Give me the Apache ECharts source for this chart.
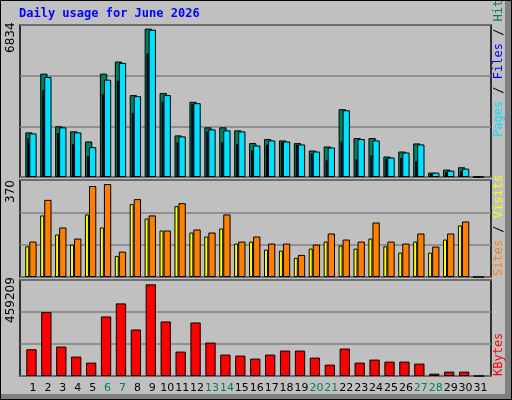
<!DOCTYPE html>
<html><head><meta charset="utf-8">
<script src="https://cdn.jsdelivr.net/npm/echarts@6/dist/echarts.min.js"></script>
<style>html,body{margin:0;padding:0;background:#c0c0c0}#c{width:512px;height:400px}</style>
</head><body><div id="c"></div>
<script>
const days = ['1','2','3','4','5','6','7','8','9','10','11','12','13','14','15','16','17','18','19','20','21','22','23','24','25','26','27','28','29','30','31'];
const weekendDays = ['6','7','13','14','20','21','27','28'];
const hits  = [2055,4760,2333,2102,1638,4760,5316,3771,6834,3864,1916,3462,2287,2287,2148,1561,1746,1684,1561,1221,1406,3122,1793,1793,943,1174,1545,201,340,448,0];
const files = [2009,4605,2287,2055,1375,4481,5254,3724,6784,3771,1870,3400,2194,2148,2102,1453,1684,1638,1499,1174,1360,3075,1746,1684,896,1128,1499,201,294,386,0];
const pages = [1793,4018,2025,1514,958,3833,4435,2951,5702,3462,1607,3354,2102,1607,1514,1236,1499,1607,1499,1097,773,1638,819,1004,850,881,726,155,232,294,0];
const visits = [122,245,169,129,249,197,84,290,233,185,282,177,161,193,133,141,109,105,76,113,141,125,113,153,122,97,141,97,149,205,0];
const sites  = [141,307,197,153,362,370,101,310,245,185,294,189,177,249,141,161,133,133,88,129,173,149,141,217,141,133,173,121,173,221,0];
const kbytes = [134080,320116,147488,97208,67040,298328,363692,232964,459209,273188,122348,268160,167600,107264,102236,87152,107264,127376,127376,92180,56984,137432,67040,82124,72068,72068,62012,11732,21788,21788,0];
const maxLabels = ['6834','370','459209'];

const panels = [{top:25,bottom:223,max:7000},{top:180,bottom:123,max:386},{top:280,bottom:24,max:481000}];
const grids=[], xAxes=[], yAxes=[], series=[];
function addGrid(p, off, withSplit, frame){
  const gi = grids.length;
  if(frame){
    grids.push({left:20,right:21,top:panels[p].top,bottom:panels[p].bottom,show:true,backgroundColor:'#c0c0c0',borderColor:'#000',borderWidth:1.5});
  } else {
    grids.push({left:25.5+off,right:24-off,top:panels[p].top,bottom:panels[p].bottom});
  }
  xAxes.push({gridIndex:gi,type:'category',data:days,show:false});
  yAxes.push({gridIndex:gi,type:'value',min:0,max:panels[p].max,interval:panels[p].max/3,
    axisLabel:{show:false},axisLine:{show:false},axisTick:{show:false},
    splitLine:{show:withSplit,lineStyle:{color:'#808080',width:1.5}}});
  return gi;
}
function bar(gi,data,color,w,z){
  series.push({type:'bar',xAxisIndex:gi,yAxisIndex:gi,data:data,barWidth:w,z:z,
    itemStyle:{color:color,borderColor:'#000',borderWidth:1},animation:false});
}
// frames
addGrid(0,0,true,true); addGrid(1,0,true,true); addGrid(2,0,true,true);
bar(addGrid(0,-4,false),hits,'#008060',7.3,3);
bar(addGrid(0,-4.7,false),pages,'#0000ff',2,4);
bar(addGrid(0,0,false),files,'#00e0ff',7.3,5);
bar(addGrid(1,-5.7,false),visits,'#ffff00',4,3);
bar(addGrid(1,0,false),sites,'#ff8000',7.3,4);
const kg = addGrid(2,-1.5,false);
bar(kg,kbytes,'#ff0000',10.3,3);
// day labels
const lg = addGrid(2,0,false);
xAxes[lg].show=true;
xAxes[lg].axisLine={show:false}; xAxes[lg].axisTick={show:false};
xAxes[lg].axisLabel={show:true,interval:0,margin:7,fontFamily:'DejaVu Sans',fontSize:11,
  color:(v)=>weekendDays.includes(v)?'#008060':'#000'};

const mono='DejaVu Sans Mono';
const graphic=[
  {type:'rect',shape:{x:0,y:0,width:512,height:400},style:{fill:'#c0c0c0'},z:-10},
  {type:'rect',shape:{x:505,y:0,width:7,height:400},style:{fill:'#808080'},z:-9},
  {type:'rect',shape:{x:0,y:394,width:512,height:6},style:{fill:'#808080'},z:-9},
  {type:'rect',shape:{x:0.5,y:0.5,width:511,height:399},style:{fill:'none',stroke:'#000',lineWidth:1},z:-8},
  {type:'text',left:19,top:8,style:{text:'Daily usage for June 2026',font:'bold 12px '+mono,fill:'#0000ff'}},
  {type:'text',x:11,y:53,rotation:Math.PI/2,style:{text:maxLabels[0],font:'12px DejaVu Sans',fill:'#000',align:'left',verticalAlign:'middle'}},
  {type:'text',x:11,y:203,rotation:Math.PI/2,style:{text:maxLabels[1],font:'12px DejaVu Sans',fill:'#000',align:'left',verticalAlign:'middle'}},
  {type:'text',x:11,y:323,rotation:Math.PI/2,style:{text:maxLabels[2],font:'12px DejaVu Sans',fill:'#000',align:'left',verticalAlign:'middle'}},
  {type:'text',x:499,y:137,rotation:Math.PI/2,style:{text:'{p|Pages}{s| / }{f|Files}{s| / }{h|Hits}',font:'12px '+mono,align:'left',verticalAlign:'middle',
    rich:{p:{fill:'#00e0ff',font:'12px '+mono},f:{fill:'#0000ff',font:'12px '+mono},h:{fill:'#008060',font:'12px '+mono},s:{fill:'#000',font:'12px '+mono}}}},
  {type:'text',x:499,y:276,rotation:Math.PI/2,style:{text:'{a|Sites}{s| / }{b|Visits}',font:'12px '+mono,align:'left',verticalAlign:'middle',
    rich:{a:{fill:'#ff8000',font:'12px '+mono},b:{fill:'#ffff00',font:'12px '+mono},s:{fill:'#000',font:'12px '+mono}}}},
  {type:'text',x:499,y:376,rotation:Math.PI/2,style:{text:'KBytes',font:'12px '+mono,fill:'#ff0000',align:'left',verticalAlign:'middle'}}
];
const chart=echarts.init(document.getElementById('c'));
chart.setOption({animation:false,backgroundColor:'#c0c0c0',grid:grids,xAxis:xAxes,yAxis:yAxes,series:series,graphic:graphic});
</script></body></html>
